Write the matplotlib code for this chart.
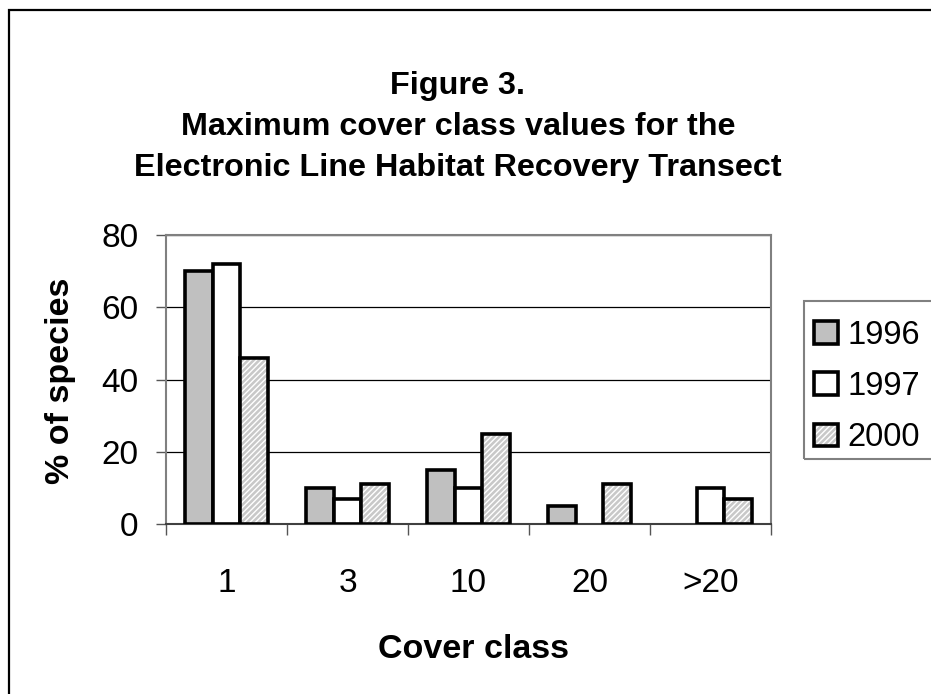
import matplotlib
matplotlib.use('Agg')
import matplotlib.pyplot as plt
from matplotlib.patches import Rectangle
import numpy as np

plt.rcParams['font.family'] = ['Liberation Sans', 'DejaVu Sans']
plt.rcParams['hatch.linewidth'] = 1.0

##########
#  data  #
##########
categories = ['1', '3', '10', '20', '>20']
years = ['1996', '1997', '2000']
vals_1996 = [70, 10, 15, 5, 0]
vals_1997 = [72, 7, 10, 0, 10]
vals_2000 = [46, 11, 25, 11, 7]

############
# plotting #
############
fig = plt.figure(figsize=(9.31, 6.94), dpi=100)
ax = fig.add_axes([166 / 931, 1 - 524 / 694, 605 / 931, 289 / 694])

x = np.arange(len(categories))
w = 0.227
edge_lw = 2.6


def lws(vals):
    # no outline for empty bars
    return [edge_lw if v > 0 else 0 for v in vals]


b96 = ax.bar(x - w, vals_1996, width=w, color='#c0c0c0', edgecolor='k', linewidth=lws(vals_1996), zorder=3)
b97 = ax.bar(x, vals_1997, width=w, color='white', edgecolor='k', linewidth=lws(vals_1997), zorder=3)
# hatched fill first (white hatch lines), then black outline on top
b00h = ax.bar(x + w, vals_2000, width=w, color='#c8c8c8', edgecolor='white', hatch='//////',
              linewidth=0, zorder=3)
b00e = ax.bar(x + w, vals_2000, width=w, color='none', edgecolor='k', linewidth=lws(vals_2000), zorder=4)

ax.set_xlim(-0.5, len(categories) - 0.5)
ax.set_ylim(0, 80)
ax.set_yticks([0, 20, 40, 60, 80])
ax.yaxis.grid(True, color='k', linewidth=0.9, zorder=1)
ax.set_axisbelow(True)

ax.set_xticks(x)
ax.set_xticklabels(categories)
ax.set_xticks(np.arange(-0.5, len(categories), 1.0), minor=True)
ax.tick_params(axis='x', which='major', length=0, pad=32, labelsize=24)
ax.tick_params(axis='x', which='minor', length=8, width=1.0, color='#555555', direction='out')
ax.tick_params(axis='y', which='major', length=7, width=1.0, color='#555555', direction='out',
               pad=13, labelsize=24)

for side in ['top', 'right', 'left']:
    ax.spines[side].set_color('#808080')
    ax.spines[side].set_linewidth(1.5)
ax.spines['bottom'].set_color('#404040')
ax.spines['bottom'].set_linewidth(1.5)

# titles and labels
fig.text(458 / 931, 1 - 127 / 694,
         'Figure 3.\nMaximum cover class values for the\nElectronic Line Habitat Recovery Transect',
         ha='center', va='center', fontsize=23.3, fontweight='bold', linespacing=1.46)
fig.text(60 / 931, 1 - 381 / 694, '% of species', rotation=90, ha='center', va='center',
         fontsize=24.5, fontweight='bold')
fig.text(473 / 931, 1 - 650 / 694, 'Cover class', ha='center', va='center',
         fontsize=24.5, fontweight='bold')

# legend (frame drawn separately)
leg = fig.legend([b96, b97, (b00h, b00e)], years, loc='upper left',
                 bbox_to_anchor=(804 / 931, 1 - 310 / 694),
                 bbox_transform=fig.transFigure, borderaxespad=0,
                 fontsize=23.5, frameon=False,
                 handlelength=0.74, handleheight=0.68, handletextpad=0.3,
                 labelspacing=0.62, borderpad=0.3)
fig.patches.append(Rectangle((804 / 931, 1 - 459 / 694), 0.2, 158 / 694, transform=fig.transFigure,
                             fill=False, edgecolor='#808080', linewidth=1.5))

# outer chart frame
fig.patches.append(Rectangle((8.5 / 931, -0.1), 1.1, 1 - 9.5 / 694 + 0.1, transform=fig.transFigure,
                             fill=False, edgecolor='k', linewidth=1.6))

plt.savefig('out.png', dpi=100)
plt.close('all')
